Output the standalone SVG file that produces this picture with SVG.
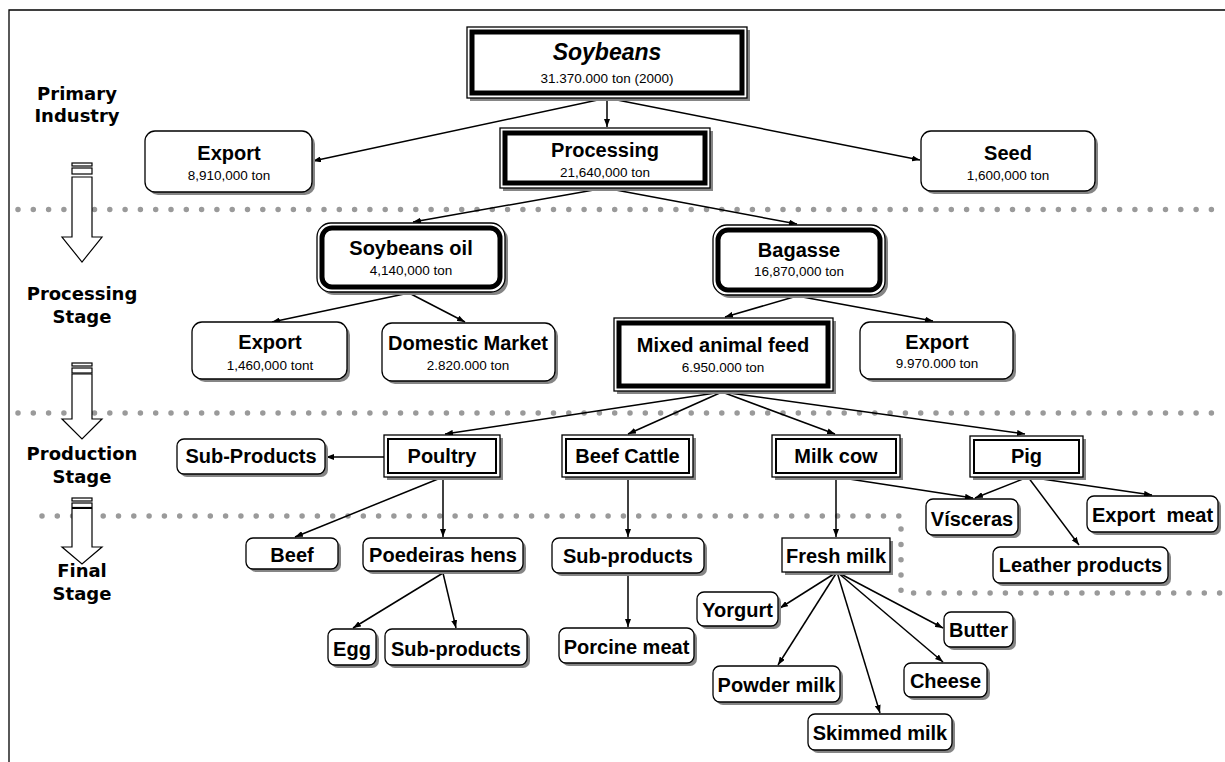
<svg xmlns="http://www.w3.org/2000/svg" width="1225" height="762" viewBox="0 0 1225 762">
<style>
.t{font-family:"Liberation Sans",Arial,sans-serif;font-weight:bold;font-size:20px;text-anchor:middle;fill:#000}
.ti{font-family:"Liberation Sans",Arial,sans-serif;font-weight:bold;font-style:italic;font-size:23px;text-anchor:middle;fill:#000}
.s{font-family:"Liberation Sans",Arial,sans-serif;font-size:13.5px;text-anchor:middle;fill:#000}
.st{font-family:"DejaVu Sans",Verdana,sans-serif;font-weight:bold;font-size:18px;text-anchor:middle;fill:#000}
.sh{fill:#858585}
.box{fill:#fff;stroke:#000;stroke-width:1.3}
.thick{fill:none;stroke:#000;stroke-width:5}
.dbl{fill:none;stroke:#000;stroke-width:2}
.c{fill:none;stroke:#000;stroke-width:1.5;marker-end:url(#ah)}
.dots{fill:none;stroke:#9a9a9a;stroke-width:5.5;stroke-linecap:round;stroke-dasharray:0 15.3}
.sa{fill:#fff;stroke:#000;stroke-width:1.2}
</style>
<defs>
<marker id="ah" markerUnits="userSpaceOnUse" markerWidth="8" markerHeight="6" refX="8" refY="3" orient="auto">
<path d="M0,0 L8,3 L0,6 z" fill="#000"/>
</marker>
</defs>
<rect width="1225" height="762" fill="#fff"/>
<path d="M9,762 L9,10 L1225,10" fill="none" stroke="#000" stroke-width="1.3"/>

<g id="dividers">
<path class="dots" d="M18,209.5 L1225,209.5"/>
<path class="dots" d="M18,413 L1225,413"/>
<path class="dots" d="M42,516 L901,516 L901,593 L1225,593"/>
</g>

<g id="stage-arrows">
<rect class="sa" x="72" y="163" width="20" height="3"/>
<rect class="sa" x="72" y="168" width="20" height="6"/>
<path class="sa" d="M72,177 L92,177 L92,237 L102,237 L82,262 L62,237 L72,237 Z"/>
<rect class="sa" x="72" y="363" width="20" height="3"/>
<rect class="sa" x="72" y="368" width="20" height="5"/>
<path class="sa" d="M72,374 L92,374 L92,419 L102,419 L82,439 L62,419 L72,419 Z"/>
<rect class="sa" x="72" y="498" width="20" height="3"/>
<rect class="sa" x="72" y="503" width="20" height="4.5"/>
<path class="sa" d="M72,508.5 L92,508.5 L92,547 L102,547 L82,564 L62,547 L72,547 Z"/>
</g>

<g id="stage-labels">
<text class="st" x="77" y="100">Primary</text>
<text class="st" x="77" y="122">Industry</text>
<text class="st" x="82" y="300">Processing</text>
<text class="st" x="82" y="323">Stage</text>
<text class="st" x="82" y="460">Production</text>
<text class="st" x="82" y="483">Stage</text>
<text class="st" x="82" y="577">Final</text>
<text class="st" x="82" y="600">Stage</text>
</g>

<g id="connectors">
<path class="c" d="M607,98 L313,161"/>
<path class="c" d="M607,98 L607,127"/>
<path class="c" d="M607,98 L920,160"/>
<path class="c" d="M605,188 L413,222"/>
<path class="c" d="M605,188 L797,224"/>
<path class="c" d="M409,293 L272,322"/>
<path class="c" d="M409,293 L465,322"/>
<path class="c" d="M797,296 L725,317"/>
<path class="c" d="M797,296 L933,321"/>
<path class="c" d="M722,392 L445,434"/>
<path class="c" d="M722,392 L628,434"/>
<path class="c" d="M722,392 L835,434"/>
<path class="c" d="M722,392 L1025,434"/>
<path class="c" d="M384,457 L326,457"/>
<path class="c" d="M443,477 L295,537"/>
<path class="c" d="M443,477 L443,537"/>
<path class="c" d="M628,477 L628,537"/>
<path class="c" d="M836,477 L836,537"/>
<path class="c" d="M836,477 L973,498"/>
<path class="c" d="M1028,477 L975,498"/>
<path class="c" d="M1028,477 L1079,545"/>
<path class="c" d="M1028,477 L1152,495"/>
<path class="c" d="M443,573 L353,628"/>
<path class="c" d="M443,573 L456,628"/>
<path class="c" d="M628,573 L628,627"/>
<path class="c" d="M837,572 L780,608"/>
<path class="c" d="M837,572 L778,665"/>
<path class="c" d="M837,572 L880,713"/>
<path class="c" d="M837,572 L943,662"/>
<path class="c" d="M837,572 L943,628"/>
</g>

<g id="soybeans">
<rect class="sh" x="470" y="30" width="280" height="71"/>
<rect class="box" x="467" y="27" width="280" height="71" stroke-width="1"/>
<rect class="thick" x="472" y="32" width="270" height="61"/>
<text class="ti" x="607" y="60">Soybeans</text>
<text class="s" x="607" y="83">31.370.000 ton (2000)</text>
</g>

<g id="export1">
<rect class="sh" x="148" y="134" width="167" height="61" rx="10"/>
<rect class="box" x="145" y="131" width="167" height="61" rx="10"/>
<text class="t" x="229" y="160">Export</text>
<text class="s" x="229" y="180">8,910,000 ton</text>
</g>

<g id="processing">
<rect class="sh" x="503" y="131" width="210" height="60"/>
<rect class="box" x="500" y="128" width="210" height="60" stroke-width="1"/>
<rect class="thick" x="505" y="133" width="200" height="50"/>
<text class="t" x="605" y="157">Processing</text>
<text class="s" x="605" y="177">21,640,000 ton</text>
</g>

<g id="seed">
<rect class="sh" x="924" y="134" width="174" height="60" rx="10"/>
<rect class="box" x="921" y="131" width="174" height="60" rx="10"/>
<text class="t" x="1008" y="160">Seed</text>
<text class="s" x="1008" y="180">1,600,000 ton</text>
</g>

<g id="soybeans-oil">
<rect class="sh" x="320" y="226" width="188" height="69" rx="14"/>
<rect class="box" x="317" y="223" width="188" height="69" rx="14" stroke-width="1"/>
<rect class="thick" x="322" y="228" width="178" height="59" rx="10"/>
<text class="t" x="411" y="255">Soybeans oil</text>
<text class="s" x="411" y="275">4,140,000 ton</text>
</g>

<g id="bagasse">
<rect class="sh" x="716" y="228" width="172" height="70" rx="14"/>
<rect class="box" x="713" y="225" width="172" height="70" rx="14" stroke-width="1"/>
<rect class="thick" x="718" y="230" width="162" height="60" rx="10"/>
<text class="t" x="799" y="257">Bagasse</text>
<text class="s" x="799" y="276">16,870,000 ton</text>
</g>

<g id="export2">
<rect class="sh" x="195" y="325" width="155" height="57" rx="10"/>
<rect class="box" x="192" y="322" width="155" height="57" rx="10"/>
<text class="t" x="270" y="349">Export</text>
<text class="s" x="270" y="370">1,460,000 tont</text>
</g>

<g id="domestic-market">
<rect class="sh" x="385" y="326" width="173" height="58" rx="10"/>
<rect class="box" x="382" y="323" width="173" height="58" rx="10"/>
<text class="t" x="468" y="350">Domestic Market</text>
<text class="s" x="468" y="370">2.820.000 ton</text>
</g>

<g id="mixed-animal-feed">
<rect class="sh" x="617" y="321" width="219" height="73"/>
<rect class="box" x="614" y="318" width="219" height="73" stroke-width="1"/>
<rect class="thick" x="619" y="323" width="209" height="63"/>
<text class="t" x="723" y="352">Mixed animal feed</text>
<text class="s" x="723" y="372">6.950.000 ton</text>
</g>

<g id="export3">
<rect class="sh" x="863" y="325" width="153" height="57" rx="10"/>
<rect class="box" x="860" y="322" width="153" height="57" rx="10"/>
<text class="t" x="937" y="349">Export</text>
<text class="s" x="937" y="368">9.970.000 ton</text>
</g>

<g id="sub-products-poultry">
<rect class="sh" x="180" y="442" width="148" height="35" rx="7"/>
<rect class="box" x="177" y="439" width="148" height="35" rx="7"/>
<text class="t" x="251" y="463">Sub-Products</text>
</g>

<g id="poultry">
<rect class="sh" x="387" y="438" width="116" height="42"/>
<rect class="box" x="384" y="435" width="116" height="42" stroke-width="1.2"/>
<rect class="dbl" x="388" y="439" width="108" height="34"/>
<text class="t" x="442" y="463">Poultry</text>
</g>

<g id="beef-cattle">
<rect class="sh" x="565" y="438" width="131" height="42"/>
<rect class="box" x="562" y="435" width="131" height="42" stroke-width="1.2"/>
<rect class="dbl" x="566" y="439" width="123" height="34"/>
<text class="t" x="627.5" y="463">Beef Cattle</text>
</g>

<g id="milk-cow">
<rect class="sh" x="775" y="438" width="128" height="42"/>
<rect class="box" x="772" y="435" width="128" height="42" stroke-width="1.2"/>
<rect class="dbl" x="776" y="439" width="120" height="34"/>
<text class="t" x="836" y="463">Milk cow</text>
</g>

<g id="pig">
<rect class="sh" x="973" y="439" width="113" height="41"/>
<rect class="box" x="970" y="436" width="113" height="41" stroke-width="1.2"/>
<rect class="dbl" x="974" y="440" width="105" height="33"/>
<text class="t" x="1026.5" y="463">Pig</text>
</g>

<g id="beef">
<rect class="sh" x="249" y="541" width="92" height="31" rx="7"/>
<rect class="box" x="246" y="538" width="92" height="31" rx="7"/>
<text class="t" x="292" y="562">Beef</text>
</g>

<g id="poedeiras-hens">
<rect class="sh" x="366" y="541" width="160" height="33" rx="7"/>
<rect class="box" x="363" y="538" width="160" height="33" rx="7"/>
<text class="t" x="443" y="562">Poedeiras hens</text>
</g>

<g id="sub-products-cattle">
<rect class="sh" x="555" y="541" width="152" height="35" rx="7"/>
<rect class="box" x="552" y="538" width="152" height="35" rx="7"/>
<text class="t" x="628" y="563">Sub-products</text>
</g>

<g id="fresh-milk">
<rect class="sh" x="785" y="541" width="108" height="34"/>
<rect class="box" x="782" y="538" width="108" height="34" stroke-width="1.5"/>
<text class="t" x="836" y="563">Fresh milk</text>
</g>

<g id="visceras">
<rect class="sh" x="929" y="502" width="92" height="36" rx="7"/>
<rect class="box" x="926" y="499" width="92" height="36" rx="7"/>
<text class="t" x="972" y="526">Vísceras</text>
</g>

<g id="export-meat">
<rect class="sh" x="1090" y="499" width="131" height="36" rx="7"/>
<rect class="box" x="1087" y="496" width="131" height="36" rx="7"/>
<text class="t" x="1152.5" y="522" xml:space="preserve">Export  meat</text>
</g>

<g id="leather-products">
<rect class="sh" x="996" y="550" width="175" height="36" rx="7"/>
<rect class="box" x="993" y="547" width="175" height="36" rx="7"/>
<text class="t" x="1080.5" y="572">Leather products</text>
</g>

<g id="egg">
<rect class="sh" x="331" y="632" width="48" height="36" rx="7"/>
<rect class="box" x="328" y="629" width="48" height="36" rx="7"/>
<text class="t" x="352" y="656">Egg</text>
</g>

<g id="sub-products-hens">
<rect class="sh" x="388" y="632" width="142" height="36" rx="7"/>
<rect class="box" x="385" y="629" width="142" height="36" rx="7"/>
<text class="t" x="456" y="656">Sub-products</text>
</g>

<g id="porcine-meat">
<rect class="sh" x="562" y="631" width="135" height="35" rx="7"/>
<rect class="box" x="559" y="628" width="135" height="35" rx="7"/>
<text class="t" x="626.5" y="654">Porcine meat</text>
</g>

<g id="yorgurt">
<rect class="sh" x="700" y="595" width="81" height="34" rx="7"/>
<rect class="box" x="697" y="592" width="81" height="34" rx="7"/>
<text class="t" x="737.5" y="617">Yorgurt</text>
</g>

<g id="butter">
<rect class="sh" x="947" y="615" width="69" height="35" rx="7"/>
<rect class="box" x="944" y="612" width="69" height="35" rx="7"/>
<text class="t" x="978.5" y="637">Butter</text>
</g>

<g id="cheese">
<rect class="sh" x="907" y="666" width="83" height="34" rx="7"/>
<rect class="box" x="904" y="663" width="83" height="34" rx="7"/>
<text class="t" x="945.5" y="688">Cheese</text>
</g>

<g id="powder-milk">
<rect class="sh" x="716" y="669" width="127" height="36" rx="7"/>
<rect class="box" x="713" y="666" width="127" height="36" rx="7"/>
<text class="t" x="776.5" y="692">Powder milk</text>
</g>

<g id="skimmed-milk">
<rect class="sh" x="811" y="717" width="144" height="36" rx="7"/>
<rect class="box" x="808" y="714" width="144" height="36" rx="7"/>
<text class="t" x="880" y="740">Skimmed milk</text>
</g>
</svg>
